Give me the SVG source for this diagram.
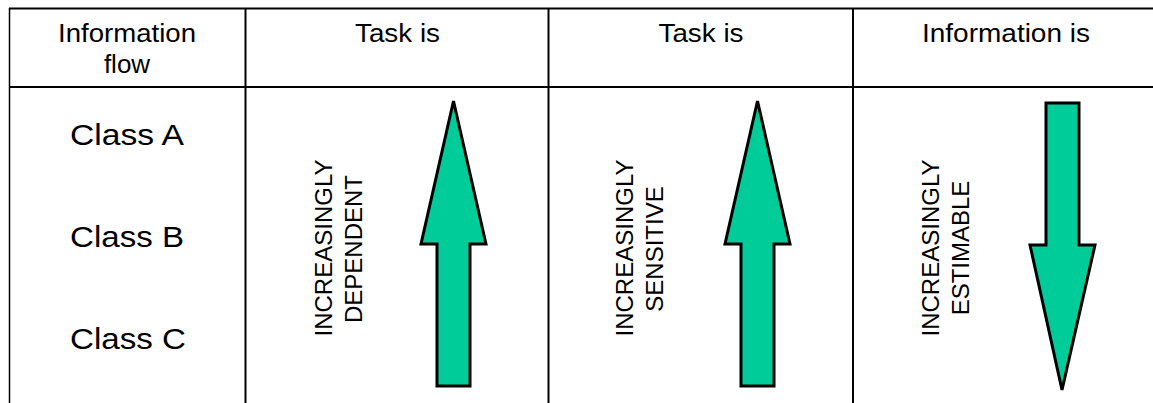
<svg xmlns="http://www.w3.org/2000/svg" width="1153" height="403" viewBox="0 0 1153 403">
  <style>
    .grid { stroke: #000; stroke-width: 2; fill: none; }
    .hdr { font-family: "Liberation Sans", Arial, sans-serif; font-size: 26px; fill: #000; text-anchor: middle; }
    .cls { font-family: "Liberation Sans", Arial, sans-serif; font-size: 30px; fill: #000; text-anchor: middle; }
    .vert { font-family: "Liberation Sans", Arial, sans-serif; font-size: 24px; fill: #000; text-anchor: middle; }
    .arrow { fill: #00CC99; stroke: #000; stroke-width: 3; stroke-linejoin: miter; }
  </style>
  <rect x="0" y="0" width="1153" height="403" fill="#fff"/>
  <g id="grid">
    <line class="grid" x1="9" y1="8.5" x2="1153" y2="8.5"/>
    <line class="grid" x1="9" y1="87" x2="1153" y2="87"/>
    <line x1="9.5" y1="8" x2="9.5" y2="403" stroke="#000" stroke-width="1.5"/>
    <line class="grid" x1="245.5" y1="8" x2="245.5" y2="403"/>
    <line class="grid" x1="548.5" y1="8" x2="548.5" y2="403"/>
    <line class="grid" x1="853" y1="8" x2="853" y2="403"/>
  </g>
  <g id="header-info-flow">
    <text class="hdr" x="127" y="42" textLength="138" lengthAdjust="spacingAndGlyphs">Information</text>
    <text class="hdr" x="127" y="73">flow</text>
  </g>
  <g id="header-task-dependent">
    <text class="hdr" x="397.5" y="42" textLength="85" lengthAdjust="spacingAndGlyphs">Task is</text>
  </g>
  <g id="header-task-sensitive">
    <text class="hdr" x="701" y="42" textLength="85" lengthAdjust="spacingAndGlyphs">Task is</text>
  </g>
  <g id="header-info-estimable">
    <text class="hdr" x="1006" y="42" textLength="168" lengthAdjust="spacingAndGlyphs">Information is</text>
  </g>
  <g id="class-a"><text class="cls" x="127" y="145" textLength="114" lengthAdjust="spacingAndGlyphs">Class A</text></g>
  <g id="class-b"><text class="cls" x="127" y="247" textLength="114" lengthAdjust="spacingAndGlyphs">Class B</text></g>
  <g id="class-c"><text class="cls" x="128" y="349" textLength="116" lengthAdjust="spacingAndGlyphs">Class C</text></g>
  <g id="dependent">
    <text class="vert" transform="translate(332,248) rotate(-90)">INCREASINGLY</text>
    <text class="vert" transform="translate(362,249) rotate(-90)">DEPENDENT</text>
    <polygon class="arrow" points="453.5,101 486,244 470,244 470,386 437,386 437,244 421,244"/>
  </g>
  <g id="sensitive">
    <text class="vert" transform="translate(633,248) rotate(-90)">INCREASINGLY</text>
    <text class="vert" transform="translate(663,249) rotate(-90)">SENSITIVE</text>
    <polygon class="arrow" points="757.5,101 790,244 774,244 774,386 741,386 741,244 725,244"/>
  </g>
  <g id="estimable">
    <text class="vert" transform="translate(939,248) rotate(-90)">INCREASINGLY</text>
    <text class="vert" transform="translate(969,248) rotate(-90)">ESTIMABLE</text>
    <polygon class="arrow" points="1046,103 1079,103 1079,245 1095,245 1062,390 1030,245 1046,245"/>
  </g>
  <g id="connectors"></g>
</svg>
